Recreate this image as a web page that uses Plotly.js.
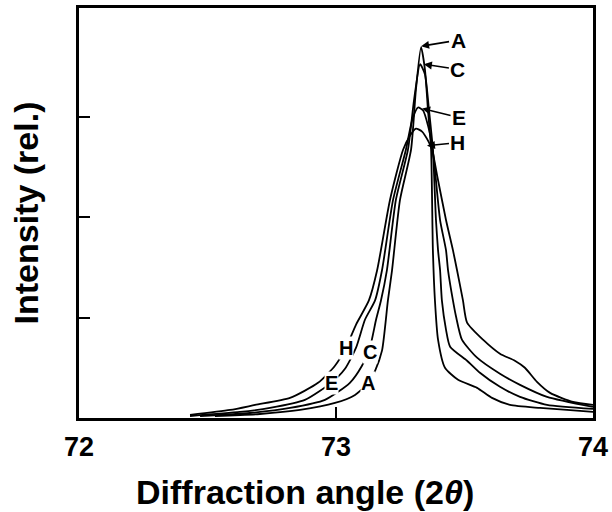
<!DOCTYPE html>
<html>
<head>
<meta charset="utf-8">
<script src="https://cdn.plot.ly/plotly-3.0.1.min.js"></script>
<style>html,body{margin:0;padding:0;background:#fff;}#chart{width:612px;height:512px;}</style>
</head>
<body>
<div id="chart"></div>
<script>
// Sample A
const xA = [72.529,72.704,72.860,72.996,73.074,73.125,73.152,73.179,73.202,73.218,73.249,73.292,73.311,73.331,73.346,73.358,73.370,73.377,73.385,73.397,73.424,73.475,73.549,73.607,73.677,73.794,73.899,74.0];
const yA = [0.02,0.04,0.08,0.15,0.23,0.35,0.47,0.67,1.17,1.47,2.17,2.67,3.27,3.69,3.47,3.06,2.67,1.67,1.17,0.78,0.50,0.38,0.30,0.20,0.13,0.10,0.08,0.06];
// Sample C
const xC = [72.471,72.665,72.821,72.957,73.054,73.101,73.132,73.156,73.175,73.198,73.233,73.280,73.304,73.327,73.346,73.362,73.377,73.389,73.397,73.405,73.412,73.428,73.444,73.510,73.560,73.638,73.716,73.821,74.0];
const yC = [0.02,0.05,0.10,0.18,0.35,0.52,0.70,0.98,1.17,1.47,2.17,2.67,3.17,3.52,3.42,3.06,2.67,1.97,1.67,1.47,1.17,0.88,0.71,0.57,0.45,0.31,0.21,0.13,0.09];
// Sample E
const xE = [72.432,72.626,72.743,72.879,72.981,73.035,73.078,73.113,73.152,73.179,73.222,73.272,73.296,73.319,73.339,73.358,73.374,73.381,73.405,73.428,73.436,73.455,73.467,73.490,73.549,73.638,73.716,73.821,74.0];
const yE = [0.02,0.06,0.10,0.18,0.35,0.49,0.70,0.98,1.17,1.47,2.17,2.67,2.96,3.09,3.06,2.91,2.71,2.57,1.97,1.67,1.47,1.17,1.01,0.78,0.60,0.44,0.33,0.21,0.11];
// Sample H
const xH = [72.432,72.588,72.685,72.821,72.930,72.996,73.039,73.078,73.128,73.160,73.210,73.261,73.288,73.311,73.335,73.358,73.374,73.393,73.428,73.455,73.471,73.494,73.510,73.572,73.638,73.696,73.735,73.782,73.833,73.922,74.0];
const yH = [0.03,0.08,0.13,0.20,0.35,0.52,0.70,0.93,1.17,1.47,2.17,2.67,2.81,2.88,2.85,2.76,2.67,2.42,1.97,1.67,1.47,1.17,0.95,0.78,0.64,0.57,0.50,0.36,0.25,0.16,0.13];

// peak labels with arrows
const peakLabels = ["A","C","E","H"];
const peakTipX = [73.331,73.342,73.335,73.354];
const peakTipY = [3.70,3.52,3.08,2.71];
// labels on the low-angle tails
const tailLabels = ["H","C","E","A"];
const tailX = [73.039,73.132,72.981,73.125];
const tailY = [0.70,0.66,0.35,0.35];

const xTicks = [72,73,74];
const yTicks = [1,2,3];
const xTitle = "Diffraction angle (2<i>θ</i>)";
const yTitle = "Intensity (rel.)";

const FONT = "Liberation Sans, Arial, Helvetica, sans-serif";
const line = {color:"#000", width:1.8, shape:"spline", smoothing:0.6};
const traces = [[xA,yA,"A"],[xC,yC,"C"],[xE,yE,"E"],[xH,yH,"H"]].map(([x,y,n]) => ({
  x:x, y:y, name:n, type:"scatter", mode:"lines", line:line, hoverinfo:"skip"
}));

const offsets = [[37,-6],[34,5],[37,9],[31,-3]];
const annotations = [];
peakLabels.forEach((t,i)=>{
  annotations.push({x:peakTipX[i], y:peakTipY[i], xref:"x", yref:"y", text:"<b>"+t+"</b>",
    showarrow:true, ax:offsets[i][0], ay:offsets[i][1], arrowhead:2, arrowsize:1, arrowwidth:1.6,
    arrowcolor:"#000", font:{family:FONT, size:21, color:"#000"}, xanchor:"center", yanchor:"middle"});
});
tailLabels.forEach((t,i)=>{
  annotations.push({x:tailX[i], y:tailY[i], xref:"x", yref:"y", text:"<b>"+t+"</b>", showarrow:false,
    bgcolor:"#fff", borderpad:0, font:{family:FONT, size:20, color:"#000"}});
});
// x-axis title, centred on the whole figure as in the original
annotations.push({x:0.44, y:-0.18, xref:"paper", yref:"paper", xanchor:"center", yanchor:"middle",
  showarrow:false, text:"<b>"+xTitle+"</b>", font:{family:FONT, size:34, color:"#000"}});

const layout = {
  width:612, height:512, margin:{l:79, r:19, t:8, b:94},
  paper_bgcolor:"#fff", plot_bgcolor:"#fff", showlegend:false,
  font:{family:FONT, color:"#000"},
  xaxis:{range:[72,74], tickvals:xTicks, ticktext:xTicks.map(String), ticks:"inside", ticklen:11, tickwidth:2,
    tickcolor:"#000", showline:true, linewidth:3, linecolor:"#000", mirror:true, showgrid:false, zeroline:false,
    tickfont:{family:FONT, size:27, weight:"bold"}, ticklabelstandoff:3},
  yaxis:{range:[0,4.08], tickvals:yTicks, ticks:"inside", ticklen:11, tickwidth:2, tickcolor:"#000",
    showticklabels:false, showline:true, linewidth:3, linecolor:"#000", mirror:true, showgrid:false, zeroline:false,
    title:{text:yTitle, font:{family:FONT, size:34, weight:"bold"}, standoff:28}},
  annotations:annotations
};
Plotly.newPlot("chart", traces, layout, {staticPlot:true, displayModeBar:false});
</script>
</body>
</html>
